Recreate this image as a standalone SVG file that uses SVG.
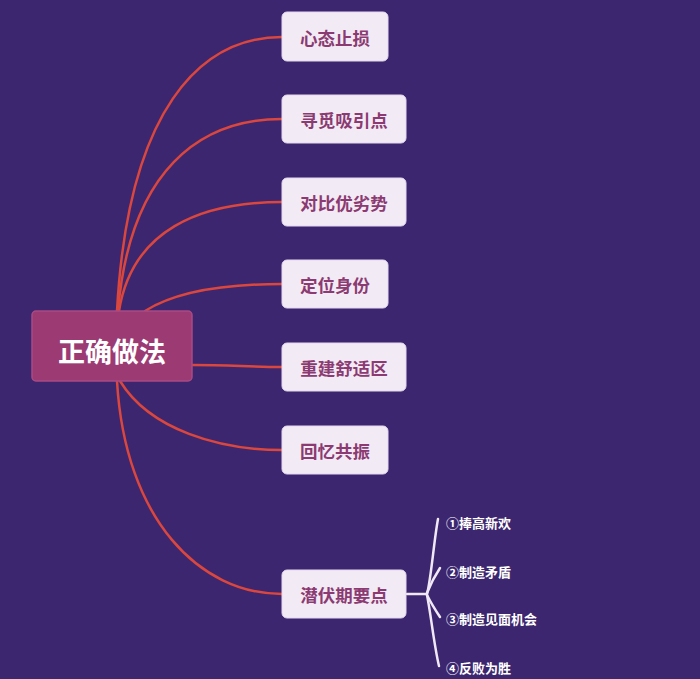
<svg xmlns="http://www.w3.org/2000/svg" width="700" height="679" viewBox="0 0 700 679">
<style>
.bg{fill:#3c2670}
.node rect{fill:#f2ebf5;stroke:#e4d8ec;stroke-width:1}
.node text{font-family:"Noto Sans CJK SC","Noto Sans",sans-serif;font-weight:bold;font-size:17.5px;fill:#8c3a72;text-anchor:middle;dominant-baseline:central}
.root rect{fill:#9c3a74;stroke:#a94a82;stroke-width:1.5}
.root text{font-family:"Noto Sans CJK SC","Noto Sans",sans-serif;font-weight:bold;font-size:27px;fill:#ffffff;text-anchor:middle;dominant-baseline:central}
.sub text{font-family:"Noto Sans CJK SC","Noto Sans",sans-serif;font-weight:bold;font-size:13px;fill:#ffffff;dominant-baseline:central}
.red{fill:none;stroke:#d9473e;stroke-width:2.5;stroke-linecap:round}
.wht{fill:none;stroke:#f1e8f6;stroke-width:2.5;stroke-linecap:round}
</style>
<rect class="bg" x="0" y="0" width="700" height="679"/>
<g id="connectors">
<path class="red" d="M117,311 C128,110 200,37 282,37"/>
<path class="red" d="M118,311 C130,170 200,119 282,119"/>
<path class="red" d="M119,311 C132,230 200,202 282,202"/>
<path class="red" d="M145,311 C175,292 220,284 282,284"/>
<path class="red" d="M192,365 C230,365 250,367 282,367"/>
<path class="red" d="M120,381 C150,430 220,450 282,450"/>
<path class="red" d="M117,381 C125,520 200,594 282,594"/>
<path class="wht" d="M407,594 L427,594"/>
<path class="wht" d="M427,594 C431,580 434,540 438,519"/>
<path class="wht" d="M427,593 C431,583 436,574 440,568"/>
<path class="wht" d="M427,595 C431,603 436,611 440,617"/>
<path class="wht" d="M427,595 C431,615 434,645 439,666"/>
</g>
<g id="root" class="root">
<rect x="32" y="311" width="160" height="70" rx="4"/>
<text x="112" y="350">正确做法</text>
</g>
<g id="n1" class="node"><rect x="282" y="12" width="106" height="49" rx="5"/><text x="335" y="37">心态止损</text></g>
<g id="n2" class="node"><rect x="282" y="95" width="124" height="48" rx="5"/><text x="344" y="119">寻觅吸引点</text></g>
<g id="n3" class="node"><rect x="282" y="178" width="124" height="48" rx="5"/><text x="344" y="202">对比优劣势</text></g>
<g id="n4" class="node"><rect x="282" y="260" width="106" height="48" rx="5"/><text x="335" y="284">定位身份</text></g>
<g id="n5" class="node"><rect x="282" y="343" width="124" height="48" rx="5"/><text x="344" y="367">重建舒适区</text></g>
<g id="n6" class="node"><rect x="282" y="426" width="106" height="48" rx="5"/><text x="335" y="450">回忆共振</text></g>
<g id="n7" class="node"><rect x="282" y="570" width="124" height="48" rx="5"/><text x="344" y="594">潜伏期要点</text></g>
<g id="s1" class="sub"><text x="446" y="522">①捧高新欢</text></g>
<g id="s2" class="sub"><text x="446" y="571">②制造矛盾</text></g>
<g id="s3" class="sub"><text x="446" y="618">③制造见面机会</text></g>
<g id="s4" class="sub"><text x="446" y="667">④反败为胜</text></g>
</svg>
